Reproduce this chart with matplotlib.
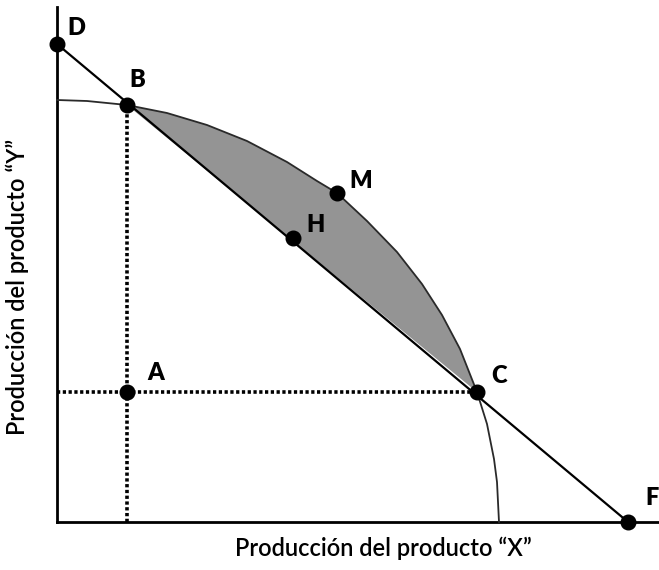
import matplotlib.pyplot as plt

# labelled points (chart units, origin at the axes corner)
point_names = ["D", "B", "M", "H", "A", "C", "F"]
point_x = [0.0, 7.0, 28.0, 23.6, 7.0, 42.0, 57.1]
point_y = [47.8, 41.7, 32.9, 28.4, 13.0, 13.0, 0.0]

# production possibility frontier
curve_x = [0.0, 3.0, 7.0, 11.0, 15.0, 19.0, 23.0, 26.0, 28.0, 31.0, 34.0,
           36.5, 38.5, 40.3, 42.0, 43.0, 43.7, 44.0, 44.2]
curve_y = [42.2, 42.1, 41.7, 40.9, 39.7, 38.1, 36.0, 34.1, 32.9, 30.1, 27.0,
           23.8, 20.7, 17.3, 13.0, 9.8, 6.3, 4.0, 0.0]

# straight line D-F
line_x = [point_x[0], point_x[6]]
line_y = [point_y[0], point_y[6]]

x_label = "Producción del producto “X”"
y_label = "Producción del producto “Y”"

# label offsets in pixels (style only)
label_offsets = {"D": (19, 16), "B": (10, 25), "M": (24, 12), "H": (23, 13),
                 "A": (29, 19), "C": (22, 16), "F": (24, 24)}

W, H = 659, 570
fig = plt.figure(figsize=(W / 100, H / 100), dpi=100)
fig.patch.set_facecolor("white")
ax = fig.add_axes([57 / W, 48 / H, 602 / W, 522 / H])
ax.set_xlim(0, 60.2)
ax.set_ylim(0, 52.2)

for side in ["top", "right"]:
    ax.spines[side].set_visible(False)
ax.spines["left"].set_bounds(0, 51.5)
ax.spines["bottom"].set_bounds(0, 60.2)
for side in ["left", "bottom"]:
    ax.spines[side].set_linewidth(2.0)
    ax.spines[side].set_color("black")
ax.set_xticks([])
ax.set_yticks([])
ax.set_facecolor("none")

# shaded area between the frontier and the line, from B to C
i_b = curve_x.index(point_x[1])
i_c = curve_x.index(point_x[5])
fill_x = curve_x[i_b:i_c + 1] + [point_x[1]]
fill_y = curve_y[i_b:i_c + 1] + [point_y[1]]
ax.fill(fill_x, fill_y, color="#949494", lw=0, zorder=1)

ax.plot(curve_x, curve_y, color="#2a2a2a", lw=1.3, zorder=3, clip_on=False)
ax.plot(line_x, line_y, color="black", lw=1.6, zorder=3, clip_on=False)

# dotted guides through A
ax.plot([point_x[1], point_x[1]], [0, point_y[1]], color="black", lw=2.6,
        linestyle=(0, (0.9, 0.7)), zorder=2)
ax.plot([0, point_x[5]], [point_y[5], point_y[5]], color="black", lw=2.6,
        linestyle=(0, (0.9, 0.7)), zorder=2)

ax.plot(point_x, point_y, "o", color="black", markersize=10.5, zorder=5, clip_on=False)

for name, x, y in zip(point_names, point_x, point_y):
    dx, dy = label_offsets[name]
    ax.annotate(name, (x, y), xytext=(dx, dy), textcoords="offset pixels",
                ha="center", va="center", fontsize=17, fontweight="heavy",
                family="Lato", annotation_clip=False)

fig.text(383 / W, 1 - 548 / H, x_label, ha="center", va="center",
         fontsize=17, family="Lato", fontweight="semibold")
fig.text(17 / W, 1 - 287 / H, y_label, ha="center", va="center", rotation=90,
         fontsize=17, family="Lato", fontweight="semibold")

fig.savefig("out.png", dpi=100)
